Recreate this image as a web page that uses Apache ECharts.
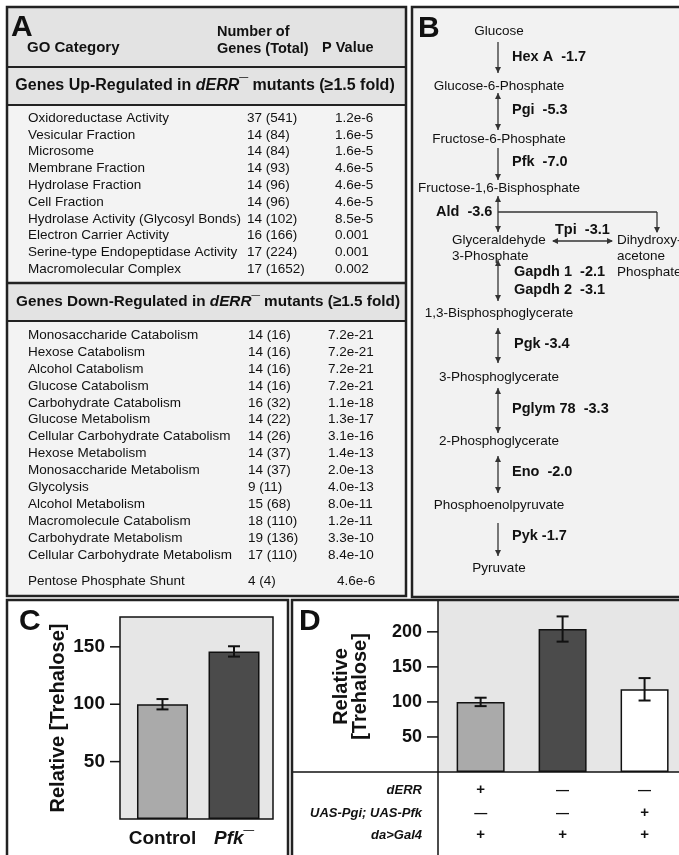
<!DOCTYPE html>
<html><head><meta charset="utf-8">
<script src="https://cdn.jsdelivr.net/npm/echarts@6/dist/echarts.min.js"></script>
<style>html,body{margin:0;padding:0;background:#fff}#c{width:679px;height:855px}</style>
</head><body><div id="c"></div>
<script>
// ---------- DATA ----------
const upCategories = ['Oxidoreductase Activity','Vesicular Fraction','Microsome','Membrane Fraction','Hydrolase Fraction','Cell Fraction','Hydrolase Activity (Glycosyl Bonds)','Electron Carrier Activity','Serine-type Endopeptidase Activity','Macromolecular Complex'];
const upCounts = ['37 (541)','14 (84)','14 (84)','14 (93)','14 (96)','14 (96)','14 (102)','16 (166)','17 (224)','17 (1652)'];
const upPValues = ['1.2e-6','1.6e-5','1.6e-5','4.6e-5','4.6e-5','4.6e-5','8.5e-5','0.001','0.001','0.002'];
const downCategories = ['Monosaccharide Catabolism','Hexose Catabolism','Alcohol Catabolism','Glucose Catabolism','Carbohydrate Catabolism','Glucose Metabolism','Cellular Carbohydrate Catabolism','Hexose Metabolism','Monosaccharide Metabolism','Glycolysis','Alcohol Metabolism','Macromolecule Catabolism','Carbohydrate Metabolism','Cellular Carbohydrate Metabolism'];
const downCounts = ['14 (16)','14 (16)','14 (16)','14 (16)','16 (32)','14 (22)','14 (26)','14 (37)','14 (37)','9 (11)','15 (68)','18 (110)','19 (136)','17 (110)'];
const downPValues = ['7.2e-21','7.2e-21','7.2e-21','7.2e-21','1.1e-18','1.3e-17','3.1e-16','1.4e-13','2.0e-13','4.0e-13','8.0e-11','1.2e-11','3.3e-10','8.4e-10'];
const extraCategory = ['Pentose Phosphate Shunt','4 (4)','4.6e-6'];

const pathwayMetabolites = ['Glucose','Glucose-6-Phosphate','Fructose-6-Phosphate','Fructose-1,6-Bisphosphate','Glyceraldehyde\n3-Phosphate','1,3-Bisphosphoglycerate','3-Phosphoglycerate','2-Phosphoglycerate','Phosphoenolpyruvate','Pyruvate'];
const pathwayEnzymes = ['Hex A  -1.7','Pgi  -5.3','Pfk  -7.0','Ald  -3.6','Gapdh 1  -2.1\nGapdh 2  -3.1','Pgk -3.4','Pglym 78  -3.3','Eno  -2.0','Pyk -1.7'];
const pathwayReversible = [false,true,false,true,true,true,true,true,false];
const sideEnzyme = 'Tpi  -3.1';
const sideMetabolite = 'Dihydroxy-\nacetone\nPhosphate';

const cCategories = ['Control','Pfk'];
const cValues = [100,146];
const cErrors = [4.5,4.5];
const cTicks = [50,100,150];

const dGroups = ['g1','g2','g3'];
const dValues = [100,204,118];
const dErrors = [6,18,16];
const dTicks = [50,100,150,200];
const genotypeRows = ['dERR','UAS-Pgi; UAS-Pfk','da>Gal4'];
const genotypeSigns = [['+','—','—'],['—','—','+'],['+','+','+']];

// ---------- STYLE / LAYOUT ----------
const FF = '"Liberation Sans", Arial, Helvetica, sans-serif';
const INK = '#111';
const chart = echarts.init(document.getElementById('c'), null, {renderer:'canvas'});
const cIdx = cCategories.map((c,i)=>i);
const dIdx = dGroups.map((g,i)=>i);

function errorSeries(xi, yi, vals, errs, cap) {
  return {
    type:'custom', xAxisIndex:xi, yAxisIndex:yi, z:5,
    encode:{x:0, y:[1,2]},
    data: vals.map((v,i)=>[i, v-errs[i], v+errs[i]]),
    renderItem(params, api){
      const x = api.value(0);
      const lo = api.coord([x, api.value(1)]);
      const hi = api.coord([x, api.value(2)]);
      const st = {stroke:INK, lineWidth:2};
      return {type:'group', children:[
        {type:'line', shape:{x1:lo[0],y1:lo[1],x2:hi[0],y2:hi[1]}, style:st},
        {type:'line', shape:{x1:lo[0]-cap,y1:lo[1],x2:lo[0]+cap,y2:lo[1]}, style:st},
        {type:'line', shape:{x1:hi[0]-cap,y1:hi[1],x2:hi[0]+cap,y2:hi[1]}, style:st}
      ]};
    }
  };
}

chart.setOption({
  animation:false,
  backgroundColor:'#ffffff',
  grid:[
    {left:120, top:617, width:153, height:202, show:true, backgroundColor:'#e6e6e6', borderColor:INK, borderWidth:1.5, z:1},
    {left:438, top:601, width:241, height:171, show:true, backgroundColor:'#e6e6e6', borderWidth:0, z:1}
  ],
  xAxis:[
    {type:'value', gridIndex:0, min:-0.594, max:1.545, splitLine:{show:false}, axisLine:{show:false}, axisTick:{show:false},
     axisLabel:{margin:10, customValues:cIdx, color:INK, fontFamily:FF, fontWeight:'bold', fontSize:19,
       formatter:(v)=> cCategories[v]==='Pfk' ? '{it|Pfk¯}' : '{b|'+cCategories[v]+'}',
       rich:{it:{fontFamily:FF, fontWeight:'bold', fontStyle:'italic', fontSize:19, color:INK},
             b:{fontFamily:FF, fontWeight:'bold', fontSize:19, color:INK}}}},
    {type:'value', gridIndex:1, min:-0.52, max:2.42, splitLine:{show:false}, axisLine:{show:false}, axisTick:{show:false}, axisLabel:{show:false}}
  ],
  yAxis:[
    {type:'value', gridIndex:0, min:0, max:176, interval:50, splitLine:{show:false},
     axisLine:{show:false},
     axisTick:{show:true, length:10, customValues:cTicks, lineStyle:{color:INK, width:1.5}},
     axisLabel:{margin:15, customValues:cTicks, color:INK, fontFamily:FF, fontWeight:'bold', fontSize:19},
     name:'Relative [Trehalose]', nameLocation:'middle', nameGap:52, nameRotate:90,
     nameTextStyle:{fontFamily:FF, fontWeight:'bold', fontSize:20, color:INK}},
    {type:'value', gridIndex:1, min:0, max:244, interval:50, splitLine:{show:false},
     axisLine:{show:false},
     axisTick:{show:true, length:11, customValues:dTicks, lineStyle:{color:INK, width:1.5}},
     axisLabel:{margin:16, customValues:dTicks, color:INK, fontFamily:FF, fontWeight:'bold', fontSize:18},
     name:'Relative\n[Trehalose]', nameLocation:'middle', nameGap:68, nameRotate:90,
     nameTextStyle:{fontFamily:FF, fontWeight:'bold', fontSize:20, lineHeight:19, color:INK, align:'center'}}
  ],
  series:[
    {type:'bar', xAxisIndex:0, yAxisIndex:0, barWidth:51, z:3,
     data:cValues.map((v,i)=>({value:[i,v], itemStyle:{color:['#aaaaaa','#4b4b4b'][i]}})),
     itemStyle:{borderColor:INK, borderWidth:1.5}},
    errorSeries(0,0,cValues,cErrors,6),
    {type:'bar', xAxisIndex:1, yAxisIndex:1, barWidth:48, z:3,
     data:dValues.map((v,i)=>({value:[i,v], itemStyle:{color:['#aaaaaa','#4b4b4b','#ffffff'][i]}})),
     itemStyle:{borderColor:INK, borderWidth:1.5}},
    errorSeries(1,1,dValues,dErrors,6)
  ]
});

// ---------- GRAPHIC (tables, pathway, frames) ----------
const G = [];
function T(x,y,text,o){
  o = o||{};
  G.push({type:'text', z:o.z||20, style:Object.assign({x:x, y:y, text:text, fill:INK, fontFamily:FF,
    fontSize:o.size||13.5, fontWeight:o.weight||'normal', fontStyle:o.style||'normal',
    align:o.align||'left', verticalAlign:o.va||'middle', lineHeight:o.lh}, o.extra||{})});
}
function R(x,y,w,h,fill,stroke,lw,z){
  G.push({type:'rect', z:z, shape:{x:x,y:y,width:w,height:h}, style:{fill:fill, stroke:stroke||null, lineWidth:lw||0}});
}
function L(x1,y1,x2,y2,lw,color,z){
  G.push({type:'line', z:z||30, shape:{x1:x1,y1:y1,x2:x2,y2:y2}, style:{stroke:color||INK, lineWidth:lw||1.5}});
}
function head(x,y,dir){ // arrowhead tip at (x,y)
  const s=3, l=6; let pts;
  if(dir==='down') pts=[[x,y],[x-s,y-l],[x+s,y-l]];
  else if(dir==='up') pts=[[x,y],[x-s,y+l],[x+s,y+l]];
  else if(dir==='left') pts=[[x,y],[x+l,y-s],[x+l,y+s]];
  else pts=[[x,y],[x-l,y-s],[x-l,y+s]];
  G.push({type:'polygon', z:30, shape:{points:pts}, style:{fill:'#333'}});
}

// Panel A
R(7,7,399,589,'#f3f3f3',null,0,-5);
R(7,7,399,60,'#e3e3e3',null,0,-4);
R(7,67,399,38,'#e3e3e3',null,0,-4);
R(7,283,399,38,'#e3e3e3',null,0,-4);
R(7,7,399,589,null,'#222',2.5,40);
L(7,67,406,67,2,'#222');
L(7,105,406,105,2,'#222');
L(7,283,406,283,2.5,'#222');
L(7,321,406,321,2,'#222');
T(11,28,'A',{size:30,weight:'bold'});
T(27,48,'GO Category',{size:15,weight:'bold'});
T(217,32,'Number of',{size:14.5,weight:'bold'});
T(217,49,'Genes (Total)',{size:14.5,weight:'bold'});
T(322,48,'P Value',{size:14.5,weight:'bold'});
function richHead(s){ return {b:{fontFamily:FF,fontWeight:'bold',fontSize:s,fill:INK}, i:{fontFamily:FF,fontWeight:'bold',fontStyle:'italic',fontSize:s,fill:INK}}; }
T(205,86,'{b|Genes Up-Regulated in }{i|dERR¯}{b| mutants (≥1.5 fold)}',{align:'center',extra:{rich:richHead(16)}});
T(208,302,'{b|Genes Down-Regulated in }{i|dERR¯}{b| mutants (≥1.5 fold)}',{align:'center',extra:{rich:richHead(15.3)}});
upCategories.forEach((c,i)=>{
  const y = 118 + i*16.8;
  T(28,y,c); T(247,y,upCounts[i]); T(335,y,upPValues[i]);
});
downCategories.forEach((c,i)=>{
  const y = 335 + i*16.95;
  T(28,y,c); T(248,y,downCounts[i]); T(328,y,downPValues[i]);
});
T(28,581,extraCategory[0]); T(248,581,extraCategory[1]); T(337,581,extraCategory[2]);

// Panel B
R(412,7,280,590,'#f2f2f2',null,0,-5);
R(412,7,280,590,null,'#222',2.5,40);
T(418,29,'B',{size:30,weight:'bold'});
const AX = 498;
const metabY = [31,86,139,188,248,313,377,441,505,568];
pathwayMetabolites.forEach((m,i)=>{
  if(m.indexOf('\n')>=0) T(452,metabY[i],m,{lh:16});
  else T(499,metabY[i],m,{align:'center'});
});
const arrowY = [[42,73],[93,130],[148,180],[196,232],[260,301],[328,363],[388,433],[456,493],[523,556]];
const enzY = [57,110,162,212,281,344,409,472,536];
const enzX = [512,512,512,436,514,514,512,512,512];
pathwayEnzymes.forEach((e,i)=>{
  const a = arrowY[i];
  L(AX,a[0],AX,a[1],1.3,'#333');
  head(AX,a[1],'down');
  if(pathwayReversible[i]) head(AX,a[0],'up');
  T(enzX[i],enzY[i],e,{size:14.5,weight:'bold',lh:18});
});
// Ald branch to DHAP and Tpi
L(AX,212,657,212,1.3,'#333');
L(657,212,657,232,1.3,'#333');
head(657,233,'down');
L(553,241,612,241,1.3,'#333');
head(552,241,'left'); head(613,241,'right');
T(555,230,sideEnzyme,{size:14.5,weight:'bold'});
T(617,256,sideMetabolite,{lh:16});

// Panel C frame + ticks through the y scale
R(7,600,281,270,null,'#222',2.5,40);
T(19,622,'C',{size:30,weight:'bold'});
cTicks.forEach(t=>{
  const py = chart.convertToPixel({yAxisIndex:0}, t);
  L(110,py,120,py,1.5,INK);
});

// Panel D frame
R(292,600,400,270,null,'#222',2.5,40);
L(438,601,438,860,1.5,INK);
L(292,772,690,772,1.5,INK);
T(299,622,'D',{size:30,weight:'bold'});
dTicks.forEach(t=>{
  const py = chart.convertToPixel({yAxisIndex:1}, t);
  L(427,py,438,py,1.5,INK);
});
const rowY = [790,813,835];
genotypeRows.forEach((r,i)=>{
  T(422,rowY[i],r,{size:13,weight:'bold',style:'italic',align:'right'});
  dIdx.forEach((g,j)=>{
    const px = chart.convertToPixel({xAxisIndex:1}, g);
    T(px,rowY[i],genotypeSigns[i][j],{size:genotypeSigns[i][j]==='+'?15:13,weight:'bold',align:'center'});
  });
});

chart.setOption({graphic:{elements:G}});
</script></body></html>
